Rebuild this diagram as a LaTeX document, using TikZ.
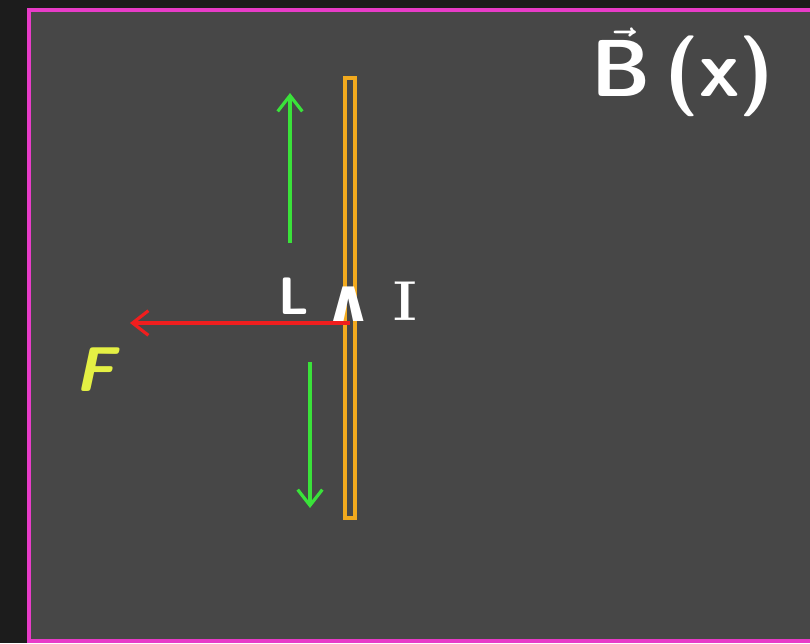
\documentclass[tikz,border=0pt]{standalone}
\usepackage{tikz}
\usepackage{amsmath}
\usepackage{fontspec}
\newfontfamily\wedgefont{DejaVu Sans}
\usetikzlibrary{arrows.meta, positioning}

\definecolor{boardbg}{HTML}{474747}
\definecolor{outerbg}{HTML}{1C1C1C}
\definecolor{framepink}{HTML}{E83CC8}
\definecolor{wireorange}{HTML}{F2AA1E}
\definecolor{arrowgreen}{HTML}{3AE23A}
\definecolor{forcered}{HTML}{F01E1E}
\definecolor{forceyellow}{HTML}{E4F044}

\begin{document}
\begin{tikzpicture}[
        x=0.02cm, y=-0.02cm,
        >={Straight Barb[length=9pt, width=14pt, line width=1.8pt]},
        every node/.style={inner sep=0pt},
        vecarrow/.style={->, line width=1.8pt, color=arrowgreen},
        forcearrow/.style={->, line width=1.8pt, color=forcered},
        chalk/.style={text=white, font=\fontsize{30}{30}\selectfont\sffamily\bfseries\boldmath},
        wire/.style={draw=wireorange, line width=2pt, fill=boardbg, minimum width=0.2cm, minimum height=8.8cm}
    ]
        % Board
        \useasboundingbox (0,0) rectangle (810,643);
        \fill[outerbg] (0,0) rectangle (810,643);
        \draw[framepink, line width=2.4pt, fill=boardbg] (29,10) rectangle (830,641);

        % Nodes
        \node[wire] (wire) at (350,298) {};
        \node[chalk, font=\fontsize{46}{46}\selectfont\sffamily\bfseries\boldmath] (field) at (683,72) {$\vec{\textsf{B}}$\,(x)};
        \node[chalk] (len) at (294,296) {L};
        \node[chalk, font=\fontsize{34}{34}\selectfont\wedgefont\bfseries] (wedge) at (349,304) {∧};
        \node[chalk, font=\fontsize{32}{32}\selectfont\rmfamily\bfseries] (cur) at (405,301) {I};
        \node[text=forceyellow, font=\fontsize{36}{36}\selectfont\sffamily\bfseries\itshape] (force) at (95,370) {F};

        \coordinate (upfrom) at (290,243);
        \coordinate (upto) at (290,93);
        \coordinate (downfrom) at (310,362);
        \coordinate (downto) at (310,508);
        \coordinate (fto) at (130,323);

        % Arrows
        \draw[vecarrow] (upfrom) -- (upto);
        \draw[vecarrow] (downfrom) -- (downto);
        \draw[forcearrow] (wire.center |- fto) -- (fto);

    \end{tikzpicture}
\end{document}
